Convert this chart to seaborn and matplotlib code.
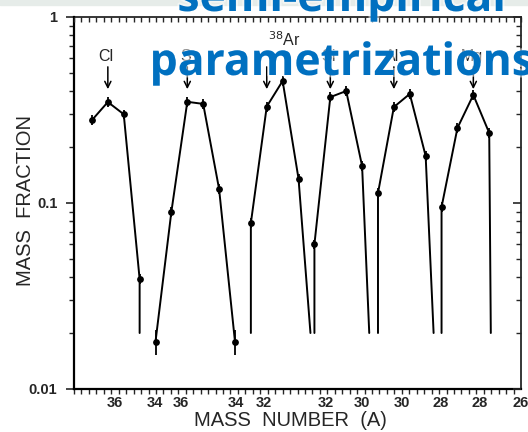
import numpy as np
import pandas as pd
import matplotlib
matplotlib.use("Agg")
import matplotlib.pyplot as plt
import matplotlib.patheffects as pe
from matplotlib.patches import Rectangle
from matplotlib.ticker import LogLocator, FixedLocator, FuncFormatter, NullFormatter
import seaborn as sns

# Isotopic mass fractions per element (heaviest isotope first)
elements = ["Cl", "S", "$^{38}$Ar", "Si", "Al", "Mg"]
cl_frac = [0.279, 0.349, 0.300, 0.039]
s_frac = [0.018, 0.090, 0.350, 0.341, 0.119, 0.018]
ar_frac = [0.078, 0.330, 0.453, 0.135]
si_frac = [0.060, 0.371, 0.400, 0.158]
al_frac = [0.113, 0.328, 0.386, 0.179]
mg_frac = [0.095, 0.253, 0.381, 0.238]
fractions = [cl_frac, s_frac, ar_frac, si_frac, al_frac, mg_frac]

# relative uncertainty of each measurement
rel_err = 0.06
s_rel_err = [0.15, 0.06, 0.06, 0.06, 0.06, 0.15]

# curves that run below the plotted floor: offset (in isotope steps) from the
# first / last measured isotope to where the curve leaves the frame
floor_frac = 0.02
lead_dx = [None, None, 0.0, 0.0, 0.0, 0.0]
trail_dx = [0.0, None, 0.75, 0.45, 0.5, 0.1]

# isotope (index within the element) marked by each label arrow
arrow_at = [1, 2, 1, 1, 1, 2]

mass_labels = ["36", "34", "36", "34", "32", "32", "30", "30", "28", "28", "26"]
mass_label_pos = [1.45, 3.96, 5.6, 9.06, 10.8, 14.7, 17.0, 19.5, 21.95, 24.4, 27.0]

# ---------------------------------------------------------------- tables
line_rows, pt_rows = [], []
start = 0
for k, fr in enumerate(fractions):
    xs = start + np.arange(len(fr))
    lx, ly = list(xs.astype(float)), list(fr)
    if lead_dx[k] is not None:
        lx.insert(0, xs[0] - lead_dx[k])
        ly.insert(0, floor_frac)
    if trail_dx[k] is not None:
        lx.append(xs[-1] + trail_dx[k])
        ly.append(floor_frac)
    for order, (a, b) in enumerate(zip(lx, ly)):
        line_rows.append({"seg": k, "order": order, "x": a, "y": b})
    errs = s_rel_err if k == 1 else [rel_err] * len(fr)
    for i, (a, b) in enumerate(zip(xs, fr)):
        pt_rows.append({"seg": k, "x": a, "y": b, "err": errs[i],
                        "arrow": i == arrow_at[k]})
    start += len(fr)

lines = pd.DataFrame(line_rows)
points = pd.DataFrame(pt_rows)

# ---------------------------------------------------------------- figure
sns.set_theme(style="white")
plt.rcParams["font.family"] = ["Liberation Sans", "DejaVu Sans"]

fig = plt.figure(figsize=(5.28, 4.32), dpi=100)
ax = fig.add_axes([74 / 528, 1 - 389 / 432, (521 - 74) / 528, (389 - 17) / 432])
ax.set_yscale("log")
xlim = (-1.13, 27.0)
ax.set_xlim(*xlim)
ax.set_ylim(0.01, 1)

sns.lineplot(data=lines, x="x", y="y", units="seg", estimator=None, sort=False,
             color="black", lw=1.4, ax=ax, legend=False)
ax.errorbar(points["x"], points["y"],
            yerr=[points["y"] * points["err"], points["y"] * points["err"]],
            fmt="none", ecolor="black", elinewidth=1.3, capsize=0, zorder=3)
sns.scatterplot(data=points, x="x", y="y", color="black", s=24, linewidth=0,
                ax=ax, zorder=4, legend=False)

ax.set_xlabel("")
ax.set_ylabel("")
for side in ["left", "bottom", "top", "right"]:
    ax.spines[side].set_color("black")
ax.spines["left"].set_linewidth(1.6)
ax.spines["bottom"].set_linewidth(1.6)
ax.spines["top"].set_linewidth(1.1)
ax.spines["right"].set_linewidth(1.1)

# y ticks: outward on the left, inward on the right
ax.yaxis.set_major_locator(LogLocator(base=10, numticks=5))
ax.yaxis.set_minor_locator(LogLocator(base=10, subs=np.arange(2, 10), numticks=12))
ax.yaxis.set_major_formatter(FuncFormatter(lambda v, p: f"{v:g}"))
ax.yaxis.set_minor_formatter(NullFormatter())
ax.tick_params(axis="y", which="major", direction="out", length=6, width=1.2,
               pad=6, labelsize=10.5)
ax.tick_params(axis="y", which="minor", direction="out", length=3.5, width=1.0)
for lab in ax.get_yticklabels():
    lab.set_fontweight("bold")

# x ticks: evenly spaced minor marks, element-wise mass numbers as labels
minor_x = np.linspace(xlim[0], xlim[1], 61)
ax.xaxis.set_minor_locator(FixedLocator(minor_x))
ax.set_xticks(mass_label_pos)
ax.set_xticklabels(mass_labels, fontweight="bold", fontsize=10.5)
ax.tick_params(axis="x", which="major", length=0, pad=5)
ax.tick_params(axis="x", which="minor", direction="out", length=3.5, width=1.0)
ax.set_xlim(*xlim)

ax_r = ax.twinx()
ax_r.set_yscale("log")
ax_r.set_ylim(0.01, 1)
ax_r.yaxis.set_major_locator(LogLocator(base=10, numticks=5))
ax_r.yaxis.set_minor_locator(LogLocator(base=10, subs=np.arange(2, 10), numticks=12))
ax_r.tick_params(axis="y", which="major", direction="in", length=6, width=1.2,
                 labelright=False, right=True)
ax_r.tick_params(axis="y", which="minor", direction="in", length=3.5, width=1.0)
ax_r.set_yticklabels([])
ax_r.grid(False)

ax_t = ax.twiny()
ax_t.set_xlim(*xlim)
ax_t.set_xticks([])
ax_t.xaxis.set_minor_locator(FixedLocator(minor_x))
ax_t.tick_params(axis="x", which="minor", direction="in", length=3.5, width=1.0,
                 top=True, labeltop=False)
ax_t.grid(False)
for a in (ax_r, ax_t):
    for s in a.spines.values():
        s.set_visible(False)

# element labels with arrows
tr = ax.get_xaxis_transform()
for k, name in enumerate(elements):
    sub = points[(points["seg"] == k) & points["arrow"]]
    xa = float(sub["x"].iloc[0])
    ax.annotate("", xy=(xa, 0.806), xytext=(xa, 0.866), xycoords=tr,
                textcoords=tr,
                arrowprops=dict(arrowstyle="->", color="black", lw=1.1,
                                mutation_scale=11, shrinkA=0, shrinkB=0))
    if k == 2:
        ax.text(xa + 1.1, 0.938, name, transform=tr, ha="center", va="center",
                fontsize=11.5)
    else:
        ax.text(xa - 0.1, 0.895, name, transform=tr, ha="center", va="center",
                fontsize=11.5)

fig.text(290 / 528, 1 - 421 / 432, "MASS  NUMBER  (A)", ha="center",
         va="center", fontsize=14.5)
fig.text(26 / 528, 1 - 200 / 432, "MASS  FRACTION", ha="center", va="center",
         rotation=90, fontsize=14.5)

# slide title running over the figure
fig.patches.append(Rectangle((0, 1 - 5 / 432), 1, 5 / 432, transform=fig.transFigure,
                             color="#e6ece9", zorder=0))
glow = [pe.withStroke(linewidth=3, foreground="white", alpha=0.5)]
fig.text(342 / 528, 1 - 11 / 432, "semi-empirical", ha="center", va="baseline",
         fontsize=32, fontweight="bold", family="Open Sans", color="#0070c0",
         path_effects=glow, zorder=10)
fig.text(342 / 528, 1 - 75 / 432, "parametrizations", ha="center", va="baseline",
         fontsize=32, fontweight="bold", family="Open Sans", color="#0070c0",
         path_effects=glow, zorder=10)

fig.savefig("out.png", dpi=100)
